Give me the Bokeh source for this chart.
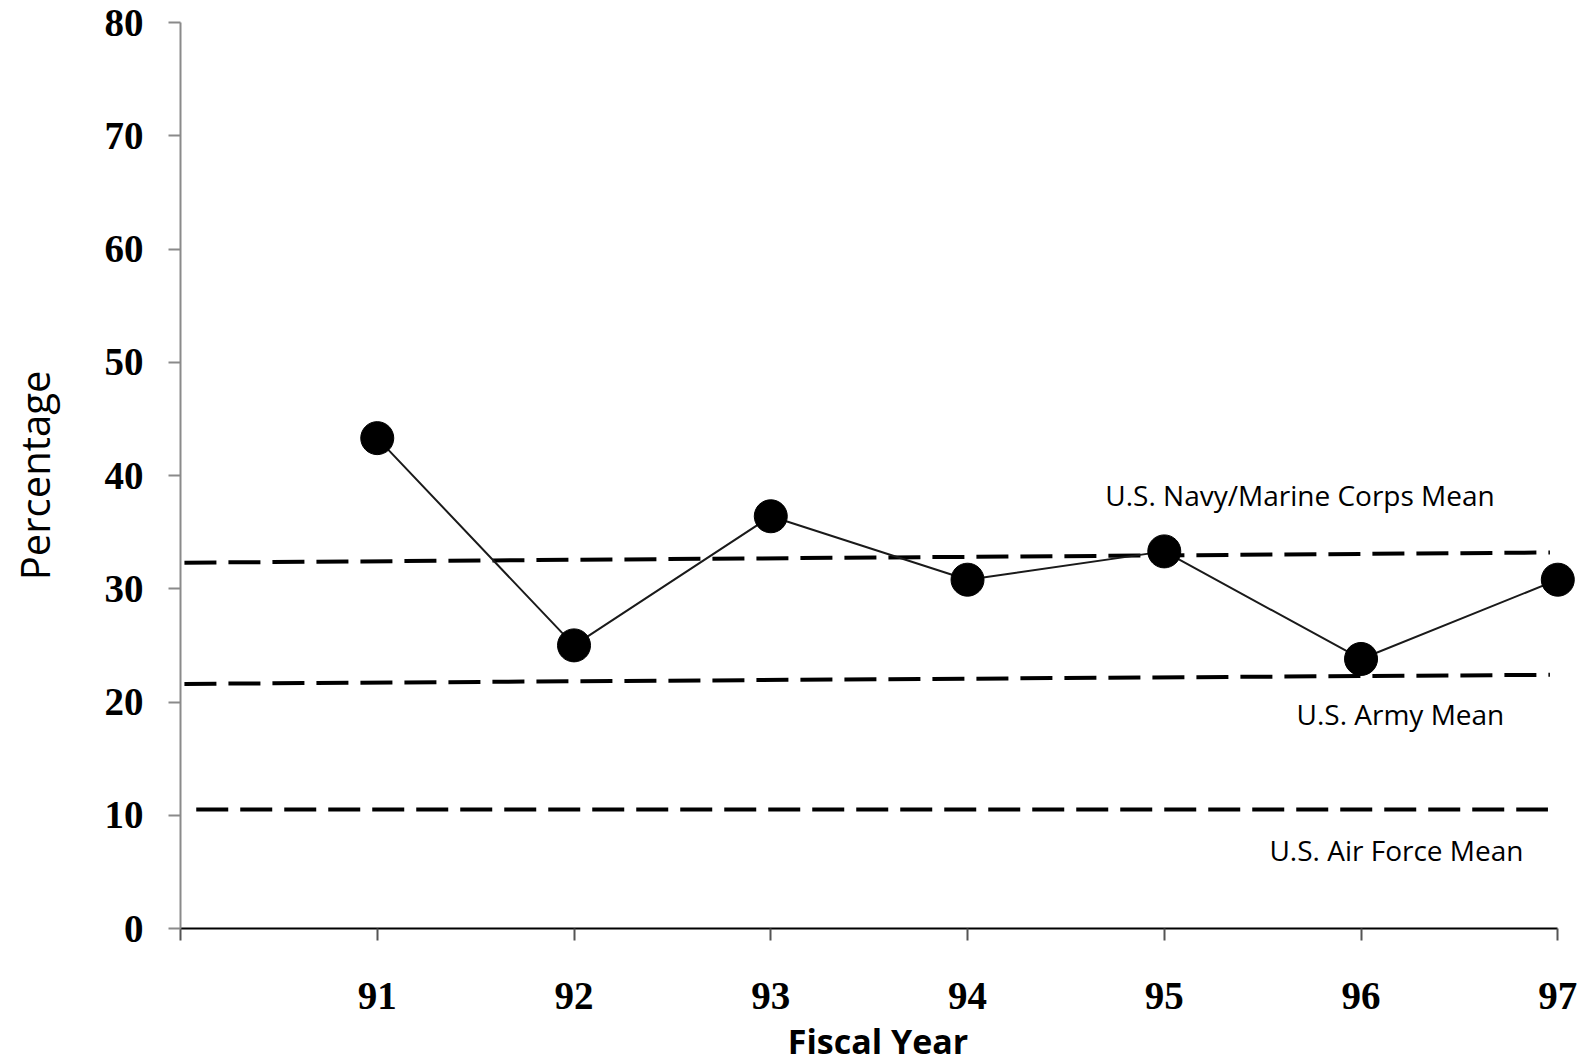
from bokeh.plotting import figure
from bokeh.models import ColumnDataSource, FixedTicker, Range1d
from bokeh.core.properties import value
from bokeh.embed import file_html
from bokeh.resources import INLINE

# ---- data ----
years = [91, 92, 93, 94, 95, 96, 97]
percentages = [43.3, 25.0, 36.4, 30.8, 33.3, 23.8, 30.8]

mean_names = ["U.S. Navy/Marine Corps Mean", "U.S. Army Mean", "U.S. Air Force Mean"]
mean_start_year = [90.02, 90.02, 90.08]
mean_end_year = [96.96, 96.96, 96.95]
mean_start_value = [32.3, 21.6, 10.5]
mean_end_value = [33.2, 22.4, 10.5]
label_year = [95.69, 96.20, 96.18]
label_value = [38.25, 18.95, 6.9]

x_ticks = [90, 91, 92, 93, 94, 95, 96, 97]
y_ticks = [0, 10, 20, 30, 40, 50, 60, 70, 80]

# ---- figure ----
p = figure(
    frame_width=1395, frame_height=906,
    x_range=Range1d(90, 97.09), y_range=Range1d(0, 80),
    min_border_left=180, min_border_top=22, min_border_right=6, min_border_bottom=0,
    toolbar_location=None, output_backend="svg",
)
p.outline_line_color = None
p.xgrid.visible = False
p.ygrid.visible = False
p.background_fill_color = "white"
p.border_fill_color = "white"

# x axis
xa = p.xaxis[0]
xa.ticker = FixedTicker(ticks=x_ticks)
xa.major_label_overrides = {90: ""}
xa.bounds = (90, 97)
xa.axis_line_color = "black"
xa.axis_line_width = 2
xa.major_tick_line_color = "#555555"
xa.major_tick_line_width = 2
xa.major_tick_out = 12
xa.major_tick_in = 0
xa.minor_tick_line_color = None
xa.major_label_text_font = "Liberation Serif"
xa.major_label_text_font_style = "bold"
xa.major_label_text_font_size = "39px"
xa.major_label_text_color = "black"
xa.major_label_standoff = 42
xa.axis_label = "Fiscal Year"
xa.axis_label_text_font = "Open Sans"
xa.axis_label_text_font_style = "bold"
xa.axis_label_text_font_size = "34px"
xa.axis_label_text_color = "black"
xa.axis_label_standoff = 6

# y axis
ya = p.yaxis[0]
ya.ticker = FixedTicker(ticks=y_ticks)
ya.bounds = (0, 80)
ya.axis_line_color = "#8a8a8a"
ya.axis_line_width = 2
ya.major_tick_line_color = "#8a8a8a"
ya.major_tick_line_width = 2
ya.major_tick_out = 12
ya.major_tick_in = 0
ya.minor_tick_line_color = None
ya.major_label_text_font = "Liberation Serif"
ya.major_label_text_font_style = "bold"
ya.major_label_text_font_size = "39px"
ya.major_label_text_color = "black"
ya.major_label_standoff = 25
ya.axis_label = "Percentage"
ya.axis_label_text_font = "Open Sans"
ya.axis_label_text_font_style = "normal"
ya.axis_label_text_font_size = "40px"
ya.axis_label_text_color = "black"
ya.axis_label_standoff = 40

# mean dashed lines
mean_src = ColumnDataSource(dict(
    x0=mean_start_year, x1=mean_end_year, y0=mean_start_value, y1=mean_end_value,
    lx=label_year, ly=label_value, name=mean_names,
))
p.segment(x0="x0", y0="y0", x1="x1", y1="y1", source=mean_src,
          line_color="black", line_width=4, line_dash="32 12")
p.text(x="lx", y="ly", text="name", source=mean_src,
       text_font=value("Open Sans"), text_font_size=value("28px"),
       text_align="center", text_baseline="alphabetic", text_color="black")

# series
src = ColumnDataSource(dict(x=years, y=percentages))
p.line(x="x", y="y", source=src, line_color="#1a1a1a", line_width=2)
p.scatter(x="x", y="y", source=src, size=33, fill_color="black", line_color="black")

open("out.html", "w").write(file_html(p, INLINE))
